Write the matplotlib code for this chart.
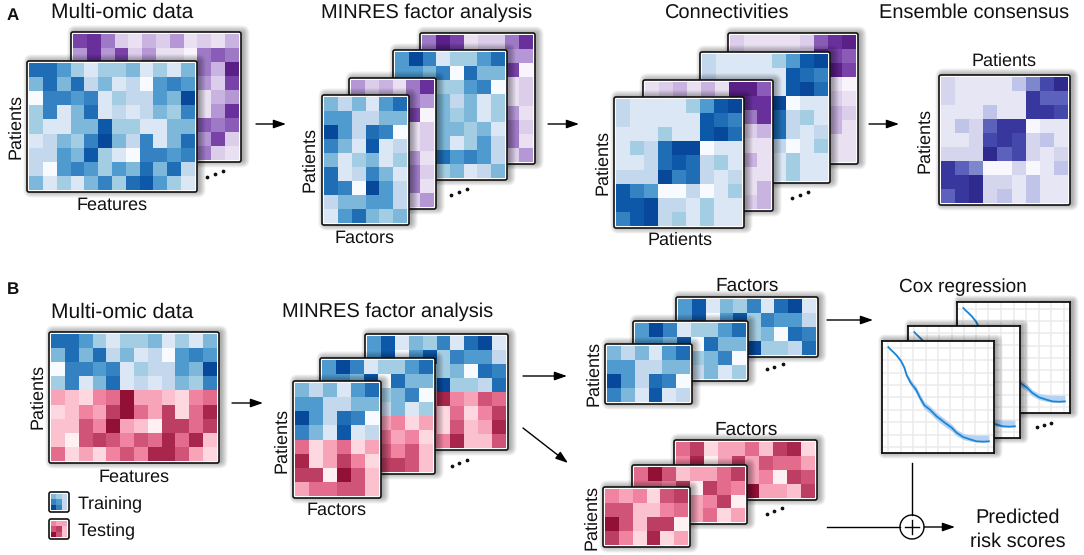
import numpy as np
import matplotlib
matplotlib.use("Agg")
import matplotlib.pyplot as plt
from matplotlib.colors import LinearSegmentedColormap as LSC
from matplotlib.patches import FancyBboxPatch, Circle

plt.rcParams['font.family'] = ['Liberation Sans', 'DejaVu Sans']
plt.rcParams['text.hinting'] = 'no_hinting'
plt.rcParams['text.hinting_factor'] = 1

# ---- data: heat-map intensities (0-9) ----
omic_blue = [[7,7,5,3,1,3,3,4,1,3,1,4],[4,7,4,7,2,4,1,2,0,5,6,5],[0,6,6,5,6,1,3,2,2,5,4,9],
             [3,6,1,4,7,1,2,1,2,4,3,6],[3,1,1,4,4,8,3,3,1,1,4,4],[1,2,4,3,6,9,4,2,6,1,4,7],
             [2,2,5,4,8,3,1,0,6,6,5,6],[2,0,5,6,5,3,5,4,7,4,7,2],[4,1,3,1,4,6,3,7,8,5,3,1]]
omic_purple = [[7,8,5,2,1,3,2,4,1,2,1,3],[4,8,4,7,2,4,1,1,0,5,6,5],[0,6,6,5,6,1,3,2,2,5,3,9],
               [3,6,1,4,7,1,2,1,2,4,2,7],[3,1,1,4,4,8,3,3,1,1,3,4],[1,2,4,3,6,9,4,2,6,1,4,8],
               [2,2,5,4,8,3,1,0,6,6,5,6],[2,0,5,6,5,3,5,4,7,4,7,2],[4,1,3,1,4,6,3,7,8,5,2,1]]
omic_split_blue = [[7,7,5,3,1,3,3,4,1,3,1,4],[4,7,4,7,2,4,1,2,0,5,6,5],
                   [0,6,6,5,6,1,3,2,2,5,4,9],[3,6,1,4,7,1,2,1,2,4,3,6]]
omic_split_red = [[3,2,1,4,5,9,3,3,2,1,4,5],[1,2,4,3,7,9,5,3,7,1,5,8],[2,2,6,4,9,3,2,0,7,7,5,7],
                  [2,0,6,7,6,4,6,5,8,5,8,2],[5,1,3,1,4,6,4,8,8,6,3,1]]
fa_front = [[4,2,4,1,5,7],[5,5,2,2,4,4],[9,5,2,7,6,0],[6,4,1,8,1,2],[4,1,3,4,1,3],
            [7,1,2,6,4,1],[7,6,0,9,5,2],[2,4,4,5,5,2],[1,5,7,4,3,4]]
fa_purple3 = [[4,2,3,1,5,8],[3,3,3,3,5,4],[3,3,3,3,7,0],[3,3,3,3,1,2],[3,3,3,3,1,2],
              [3,3,3,3,4,1],[3,3,3,3,5,2],[3,3,3,3,5,1],[3,3,3,3,2,4]]
fa_blue2 = [[5,9,6,1,3,3,5,7],[5,5,4,6,0,7,4,4],[4,4,4,3,3,5,6,0],[4,4,4,4,2,4,1,3],
            [4,4,4,4,3,4,1,3],[4,4,4,4,4,3,4,1],[4,4,4,4,1,3,5,2],[4,4,4,7,5,6,5,2],[4,4,4,3,4,1,2,4]]
fa_purple_back = [[5,9,7,1,2,2,5,8],[3,3,3,3,3,3,4,4],[3,3,3,3,3,3,7,0],[3,3,3,3,3,3,1,2],
                  [3,3,3,3,3,3,1,2],[3,3,3,3,3,3,4,1],[3,3,3,3,3,3,5,2],[3,3,3,3,3,3,5,1],[3,3,3,3,3,3,2,4]]
conn_blue = [[2,1,1,1,1,3,5,8,9],[2,1,1,1,1,1,8,7,6],[1,1,1,3,1,1,8,9,7],[1,3,2,7,9,9,0,1,1],
             [1,1,2,7,8,7,2,3,1],[2,2,2,9,6,7,2,1,2],[8,6,5,0,0,2,0,1,3],[8,8,9,2,2,1,3,1,1],[6,8,9,2,3,1,3,1,1]]
conn_purple_mid = [[1,2,3,1,3,1,9,9,6],[2,1,1,1,1,1,9,8,8],[1,1,1,3,1,1,8,5,8],[1,3,2,7,9,9,2,2,3],
                   [1,1,2,7,8,7,2,1,1],[2,2,2,9,6,7,2,3,1],[8,6,5,0,0,2,0,1,1],[8,8,9,2,2,1,3,1,3],[6,8,9,2,3,1,3,2,3]]
conn_purple_back = [[2,1,1,1,1,2,6,8,9],[2,1,1,1,1,1,8,7,6],[1,1,1,3,1,1,8,9,7],[1,3,2,7,9,9,0,1,0],
                    [1,1,2,7,8,7,2,2,1],[2,2,2,9,6,7,2,3,2],[8,6,5,0,0,2,0,3,1],[8,8,9,2,2,1,3,1,1],[6,8,9,2,3,1,3,1,1]]
consensus = [[2,1,1,1,1,3,5,7,9],[2,1,1,1,1,1,8,6,6],[1,1,1,3,1,1,8,8,7],[1,3,2,6,8,8,0,1,1],
             [1,1,2,7,8,7,2,3,1],[2,2,2,9,6,7,2,1,2],[8,6,5,0,0,2,0,1,3],[8,8,9,2,2,1,3,1,1],[6,8,9,2,3,1,3,1,1]]
split_front_blue = [[4,2,4,1,5,7],[5,5,2,2,4,4],[9,5,2,7,6,0],[6,4,1,8,1,2]]
split_front_red = [[5,1,3,5,1,3],[8,1,3,7,4,1],[7,7,0,9,6,2],[3,5,5,6,6,2]]
split_mid_blue = [[5,9,6,1,3,3,5,7],[5,5,4,8,0,7,4,4],[4,4,4,4,3,4,6,0],[4,4,4,4,2,4,1,3]]
split_mid_red = [[4,4,4,4,3,4,1,3],[4,4,4,4,5,3,4,1],[4,4,4,4,6,4,6,2],[4,4,4,4,7,7,6,2]]
split_back_blue = [[5,8,1,4,3,6,1,7,9,1],[5,8,0,5,8,3,6,5,5,2],[4,4,4,4,3,3,4,0,7,6],[4,4,4,4,4,9,3,3,2,7]]
split_back_red = [[4,4,4,4,4,8,4,3,6,5],[4,4,4,4,4,1,5,1,4,7],[4,4,4,4,4,1,6,2,3,8],[4,4,4,4,4,4,8,2,2,6]]
test_front = [[4,3,4,1,6,7],[6,6,2,2,4,5],[9,6,2,7,7,0],[7,4,1,8,1,3]]
test_mid = [[5,9,6,2,3,3,5,7],[5,5,4,7,0,7,5,4],[4,4,4,4,3,4,7,0],[4,4,4,4,3,5,1,3]]
test_back = [[5,7,1,3,3,5,2,7,8,1],[4,8,0,3,7,3,6,5,5,3],[4,4,4,4,4,3,4,0,7,6],[4,4,4,4,4,9,3,3,2,7]]
icon_train = [[4,3,2],[6,5,2],[9,6,2]]
icon_test = [[4,3,3],[6,7,2],[9,6,2]]

# ---- data: survival curve of the Cox panels ----
cox_time = [0,.13,.35,.67,1.02,1.29,1.48,1.8,2.23,2.55,2.9,3.36,3.89,4.48,5.1,5.5,6.04,6.58,7.11,7.65,8.1]
cox_surv = [8.05,7.9,7.7,7.38,6.93,6.39,5.77,5.18,4.62,3.97,3.36,3.0,2.47,2.01,1.56,1.15,.8,.62,.46,.43,.46]
cox_upper = [8.05,7.93,7.75,7.48,7.05,6.54,5.97,5.43,4.9,4.27,3.66,3.3,2.77,2.31,1.84,1.4,1.1,1.0,.97,.96,.96]
cox_lower = [8.05,7.87,7.65,7.28,6.81,6.24,5.57,4.93,4.34,3.67,3.06,2.7,2.17,1.71,1.28,.9,.6,.47,.41,.41,.42]

# ---- colour ramps ----
BLUE = LSC.from_list('b', ['#f7fbff','#dbe7f5','#c2d7ed','#a3cde3','#7db8da','#4f9bd0','#3582c2','#1f6db5','#0d58a8','#08489a'])
PURPLE = LSC.from_list('p', ['#f8f4fb','#e9e0f2','#dccdea','#c9b3e0','#b497d4','#9e79c6','#8a5cb8','#7842a8','#69309c','#5a2088'])
RED = LSC.from_list('r', ['#fff0f3','#fdd8e0','#fbc0cf','#f7a3b8','#f083a0','#e36c8c','#cf5478','#bc3f63','#a8264b','#920f35'])
INDIGO = LSC.from_list('i', ['#f7f7fd','#e6e6f5','#d5d5ee','#c0c4e8','#a8b0e0','#7e86cc','#5c62bb','#4448ab','#37379e','#2e2a8e'])

W, H = 1084, 555
fig = plt.figure(figsize=(W/100, H/100), dpi=100, facecolor='white')
canvas = fig.add_axes([0, 0, 1, 1], zorder=1000)
canvas.set_xlim(0, W); canvas.set_ylim(H, 0); canvas.axis('off'); canvas.patch.set_alpha(0)
order = [1]


def rect_axes(x0, y0, x1, y1):
    order[0] += 1
    ax = fig.add_axes([x0/W, 1-y1/H, (x1-x0)/W, (y1-y0)/H], zorder=order[0])
    ax.patch.set_alpha(0)
    ax.set_xticks([]); ax.set_yticks([])
    for s in ax.spines.values():
        s.set_visible(False)
    return ax


def shadow(ax, x0, y0, x1, y1, round_px=2.0, strength=0.05):
    for k in range(7):
        e = 6 - k
        ax.add_patch(FancyBboxPatch((x0-e+2.5, y0-e-0.5), x1-x0+2*e, y1-y0+2*e,
                                    boxstyle=f"round,pad=0,rounding_size={round_px+e}",
                                    fc='black', ec='none', alpha=strength,
                                    transform=canvas.transData, clip_on=False, zorder=0))


def panel(x0, y0, x1, y1, layers, inset=2.3, shad=True):
    """layers: list of (matrix, colormap), stacked from top to bottom."""
    i = inset
    ax = rect_axes(x0+i, y0+i, x1-i, y1-i)
    if shad:
        shadow(ax, x0, y0, x1, y1)
    ax.add_patch(FancyBboxPatch((x0, y0), x1-x0, y1-y0, boxstyle="round,pad=0,rounding_size=2",
                                fc='white', ec='#111111', lw=1.2,
                                transform=canvas.transData, clip_on=False, zorder=1))
    nrow = sum(len(m) for m, _ in layers)
    ncol = len(layers[0][0][0])
    row = 0
    for m, cmap in layers:
        a = np.array(m, float)
        ax.pcolormesh(np.arange(ncol+1), np.arange(row, row+len(m)+1), a, cmap=cmap, vmin=0, vmax=9,
                      zorder=2, edgecolors='none')
        row += len(m)
    ax.set_xlim(0, ncol); ax.set_ylim(nrow, 0)
    return ax


def cox_panel(x0, y0, x1, y1):
    ax = rect_axes(x0, y0, x1, y1)
    shadow(ax, x0, y0, x1, y1, round_px=0.5, strength=0.055)
    ax.add_patch(plt.Rectangle((x0, y0), x1-x0, y1-y0, fc='white', ec='none',
                               transform=canvas.transData, clip_on=False, zorder=0.5))
    ax.set_xlim(-.51, 8.51); ax.set_ylim(-.48, 8.54)
    ax.set_xticks(range(9)); ax.set_yticks(range(9))
    ax.tick_params(length=0, labelbottom=False, labelleft=False)
    ax.grid(True, color='#ebebeb', lw=1.1, zorder=1)
    ax.set_axisbelow(False)
    ax.fill_between(cox_time, cox_lower, cox_upper, color='#b5d2f3', lw=0, zorder=3)
    ax.plot(cox_time, cox_surv, color='#1a86d6', lw=1.3, zorder=4)
    for s in ax.spines.values():
        s.set_visible(True); s.set_color('#111111'); s.set_linewidth(1.3); s.set_zorder(5)


def label(x, y, s, size=13.3, rot=0, **kw):
    kw.setdefault('ha', 'center')
    if rot:
        x += 1
    else:
        y += 1.5
    canvas.text(x, y, s, fontsize=size, rotation=rot, va='center', color='#111111', **kw)


def arrow(x0, y0, x1, y1):
    canvas.annotate('', xy=(x1, y1), xytext=(x0, y0),
                    arrowprops=dict(arrowstyle='-|>,head_length=0.75,head_width=0.26', color='black',
                                    lw=1.0, mutation_scale=10, shrinkA=0, shrinkB=0))


def dots(xs, ys):
    canvas.plot(xs, ys, ls='none', marker='o', ms=1.7, color='#111111')


# ---- row A ----
panel(71, 32, 241, 162, [(omic_purple, PURPLE)])
panel(27, 61, 197, 192, [(omic_blue, BLUE)])
panel(420, 33, 535, 164, [(fa_purple_back, PURPLE)])
panel(393, 50, 507, 180, [(fa_blue2, BLUE)])
panel(349, 78, 436, 209, [(fa_purple3, PURPLE)])
panel(322, 95, 409, 225, [(fa_front, BLUE)])
panel(728, 33, 858, 164, [(conn_purple_back, PURPLE)])
panel(700, 52, 830, 183, [(conn_blue, BLUE)])
panel(643, 80, 773, 211, [(conn_purple_mid, PURPLE)])
panel(614, 97, 744, 228, [(conn_blue, BLUE)])
panel(939, 75, 1070, 205, [(consensus, INDIGO)])

# ---- row B ----
panel(49, 332, 219, 463, [(omic_split_blue, BLUE), (omic_split_red, RED)])
panel(49, 492, 69, 512, [(icon_train, BLUE)], shad=False)
panel(49, 519, 69, 539, [(icon_test, RED)], shad=False)
panel(365, 334, 508, 450, [(split_back_blue, BLUE), (split_back_red, RED)])
panel(320, 358, 435, 474, [(split_mid_blue, BLUE), (split_mid_red, RED)])
panel(293, 381, 381, 498, [(split_front_blue, BLUE), (split_front_red, RED)])
panel(676, 297, 818, 357, [(split_back_blue, BLUE)])
panel(633, 321, 748, 381, [(split_mid_blue, BLUE)])
panel(605, 344, 692, 404, [(split_front_blue, BLUE)])
panel(674, 440, 817, 500, [(test_back, RED)])
panel(632, 465, 747, 524, [(test_mid, RED)])
panel(603, 487, 690, 547, [(test_front, RED)])
cox_panel(957, 302, 1070, 413)
cox_panel(908, 326, 1020, 438)
cox_panel(882, 341, 994, 453)

# ---- text ----
label(13, 14, 'A', size=12, fontweight='bold')
label(13, 288, 'B', size=12, fontweight='bold')
label(122, 11, 'Multi-omic data', size=14.8)
label(427, 11, 'MINRES factor analysis', size=14.3)
label(727, 11, 'Connectivities', size=14.3)
label(974, 11, 'Ensemble consensus', size=14.4)
label(15, 126, 'Patients', rot=90)
label(112, 204, 'Features')
label(309, 159, 'Patients', rot=90)
label(365, 237, 'Factors')
label(602, 162, 'Patients', rot=90)
label(680, 239, 'Patients')
label(1004, 60, 'Patients')
label(924, 140, 'Patients', rot=90)
label(122, 311, 'Multi-omic data', size=14.8)
label(388, 310, 'MINRES factor analysis', size=14.3)
label(37, 396, 'Patients', rot=90)
label(134, 476, 'Features')
label(78, 502, 'Training', ha='left')
label(78, 529, 'Testing', ha='left')
label(281, 440, 'Patients', rot=90)
label(337, 509, 'Factors')
label(747, 284, 'Factors', size=13.8)
label(593, 373, 'Patients', rot=90)
label(746, 428, 'Factors', size=13.8)
label(591, 517, 'Patients', rot=90)
label(963, 286, 'Cox regression', size=14)
label(1018, 516, 'Predicted', size=14.2)
label(1018, 540, 'risk scores', size=14.2)

# ---- arrows and connectors ----
arrow(256, 124, 286, 124)
arrow(548, 124, 579, 124)
arrow(869, 124, 899, 124)
arrow(232, 403, 263, 403)
arrow(523, 376, 567, 376)
arrow(523, 428, 568, 463)
arrow(827, 320, 873, 320)
arrow(924, 527, 955, 527)
canvas.plot([912, 912], [463, 515], color='black', lw=1.0)
canvas.plot([827, 900], [527, 527], color='black', lw=1.0)
canvas.add_patch(Circle((912, 527), 12, fc='white', ec='black', lw=1.0))
canvas.plot([905, 919], [527, 527], color='black', lw=1.0)
canvas.plot([912, 912], [520, 534], color='black', lw=1.0)

dots([207, 215, 223], [177, 174, 171])
dots([451, 459, 467], [195, 192, 189])
dots([792, 800, 808], [198, 195, 192])
dots([452, 459, 467], [466, 463, 460])
dots([767, 774, 783], [369, 367, 364])
dots([767, 774, 782], [514, 511, 508])
dots([1037, 1044, 1051], [427, 425, 423])

canvas.set_xlim(0, W); canvas.set_ylim(H, 0)
fig.savefig('out.png', dpi=100, facecolor='white')
